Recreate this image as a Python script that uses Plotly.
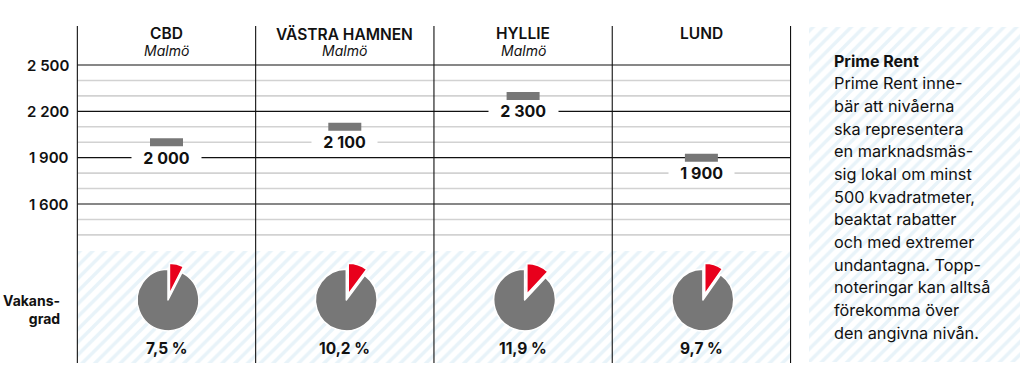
import plotly.graph_objects as go

# ---------------- data ----------------
areas = ["CBD", "VÄSTRA HAMNEN", "HYLLIE", "LUND"]
subtitles = ["Malmö", "Malmö", "Malmö", ""]
prime_rent = [2000, 2100, 2300, 1900]
rent_labels = ["2 000", "2 100", "2 300", "1 900"]
vacancy = [7.5, 10.2, 11.9, 9.7]
vacancy_labels = ["7,5 %", "10,2 %", "11,9 %", "9,7 %"]
major_ticks = [2500, 2200, 1900, 1600]
major_tick_labels = ["2 500", "2 200", "1 900", "1 600"]
minor_ticks = [2400, 2300, 2100, 2000, 1800, 1700, 1500, 1400]
side_title = "Prime Rent"
side_lines = [
    "Prime Rent inne-",
    "bär att nivåerna",
    "ska representera",
    "en marknadsmäs-",
    "sig lokal om minst",
    "500 kvadratmeter,",
    "beaktat rabatter",
    "och med extremer",
    "undantagna. Topp-",
    "noteringar kan alltså",
    "förekomma över",
    "den angivna nivån.",
]

# ---------------- geometry helpers (pixel -> axis) ----------------
W, H = 1020, 374
COL0, COLW = 166.5, 178.3          # pixel centre of first column, column width
Y_REF_PX, Y_REF_V, PX_PER_UNIT = 65.0, 2500.0, 0.15444


def xu(px):
    return (px - COL0) / COLW


def yu(px):
    return Y_REF_V - (px - Y_REF_PX) / PX_PER_UNIT


X_RANGE = [xu(0), xu(W)]
Y_RANGE = [yu(H), yu(0)]
n = len(areas)
left_edge, right_edge = -0.5, n - 0.5
top_v, bottom_v = yu(26), yu(363)
panel_top_v = yu(251)

FONT = "Inter, Lato, sans-serif"
BLACK = "#111111"
GRAY_BAR = "#777777"
RED = "#e8001c"
HATCH = dict(shape="/", fgcolor="#d2e8f3", bgcolor="white", size=9, solidity=0.4)

fig = go.Figure()

# hatched background panels
fig.add_trace(go.Scatter(
    x=[left_edge, right_edge, right_edge, left_edge, left_edge],
    y=[panel_top_v, panel_top_v, bottom_v, bottom_v, panel_top_v],
    fill="toself", fillpattern=HATCH, fillcolor="white",
    mode="lines", line=dict(width=0), hoverinfo="skip", showlegend=False))
fig.add_trace(go.Scatter(
    x=[xu(809), xu(W), xu(W), xu(809), xu(809)],
    y=[yu(27), yu(27), yu(362), yu(362), yu(27)],
    fill="toself", fillpattern=HATCH, fillcolor="white",
    mode="lines", line=dict(width=0), hoverinfo="skip", showlegend=False))

# prime rent markers
marker_h = 8 / PX_PER_UNIT
fig.add_trace(go.Bar(
    x=list(range(n)), y=[marker_h] * n,
    base=[v - marker_h / 2 for v in prime_rent],
    width=33 / COLW, marker=dict(color=GRAY_BAR, line=dict(width=0)),
    hoverinfo="skip", showlegend=False))

shapes = []
# minor grey grid lines
for v in minor_ticks:
    shapes.append(dict(type="line", xref="x", yref="y", x0=left_edge, x1=right_edge,
                       y0=v, y1=v, line=dict(color="#d2d2d2", width=1.6), layer="below"))
# major black lines
for v in major_ticks:
    shapes.append(dict(type="line", xref="x", yref="y", x0=left_edge, x1=right_edge,
                       y0=v, y1=v, line=dict(color=BLACK, width=1.1), layer="below"))
# vertical column separators
for i in range(n + 1):
    xb = i - 0.5
    shapes.append(dict(type="line", xref="x", yref="y", x0=xb, x1=xb,
                       y0=bottom_v, y1=top_v, line=dict(color=BLACK, width=1.1), layer="above"))

annotations = []
# y tick labels
for v, t in zip(major_ticks, major_tick_labels):
    annotations.append(dict(x=xu(71), y=v, xref="x", yref="y", text=t, showarrow=False,
                            xanchor="right", yanchor="middle",
                            font=dict(family=FONT, size=15, color=BLACK, weight=600)))
# headers
for i, (a, s) in enumerate(zip(areas, subtitles)):
    annotations.append(dict(x=i, y=yu(33.5), xref="x", yref="y", text=a, showarrow=False,
                            xanchor="center", yanchor="middle",
                            font=dict(family=FONT, size=15.5, color=BLACK, weight=600)))
    if s:
        annotations.append(dict(x=i, y=yu(50.5), xref="x", yref="y", text="<i>" + s + "</i>",
                                showarrow=False, xanchor="center", yanchor="middle",
                                font=dict(family=FONT, size=14, color=BLACK)))
# value labels (white box hides the grid line beneath)
pad = "\u00a0" * 3
for i, (v, t) in enumerate(zip(prime_rent, rent_labels)):
    annotations.append(dict(x=i, y=v - 100, xref="x", yref="y", text=pad + t + pad,
                            showarrow=False, xanchor="center", yanchor="middle",
                            bgcolor="white", borderpad=0,
                            font=dict(family=FONT, size=16, color=BLACK, weight=700)))
# vacancy labels
for i, t in enumerate(vacancy_labels):
    annotations.append(dict(x=i, y=yu(348), xref="x", yref="y", text=t, showarrow=False,
                            xanchor="center", yanchor="middle",
                            font=dict(family=FONT, size=15.5, color=BLACK, weight=700)))
annotations.append(dict(x=xu(62), y=yu(309), xref="x", yref="y", text="Vakans-<br>grad",
                        showarrow=False, xanchor="right", yanchor="middle", align="right",
                        font=dict(family=FONT, size=14, color=BLACK, weight=700)))
# side text
annotations.append(dict(x=xu(832), y=yu(60.5), xref="x", yref="y", text=side_title,
                        showarrow=False, xanchor="left", yanchor="middle",
                        font=dict(family=FONT, size=16, color=BLACK, weight=700)))
for k, line in enumerate(side_lines):
    annotations.append(dict(x=xu(832), y=yu(60.5 + 22.67 * (k + 1)), xref="x", yref="y",
                            text=line, showarrow=False, xanchor="left", yanchor="middle",
                            font=dict(family=FONT, size=16.3, color=BLACK)))

# vacancy pies
box = 37
for i, v in enumerate(vacancy):
    cx = COL0 + COLW * i + 1.5
    cy = 300
    fig.add_trace(go.Pie(
        values=[v, 100 - v], labels=["Vakant", "Uthyrt"], sort=False,
        direction="clockwise", rotation=0, pull=[0.2, 0],
        marker=dict(colors=[RED, GRAY_BAR], line=dict(color="white", width=1.5)),
        textinfo="none", hoverinfo="skip", showlegend=False,
        domain=dict(x=[(cx - box) / W, (cx + box) / W], y=[1 - (cy + box) / H, 1 - (cy - box) / H])))

fig.update_layout(
    width=W, height=H, margin=dict(l=0, r=0, t=0, b=0),
    paper_bgcolor="white", plot_bgcolor="white",
    xaxis=dict(range=X_RANGE, visible=False, fixedrange=True),
    yaxis=dict(range=Y_RANGE, visible=False, fixedrange=True),
    shapes=shapes, annotations=annotations, showlegend=False, barmode="overlay",
)

fig.write_html(
    "out.html",
    config={"displayModeBar": False},
    post_script="document.body.style.margin='0';document.body.style.overflow='hidden';",
)
